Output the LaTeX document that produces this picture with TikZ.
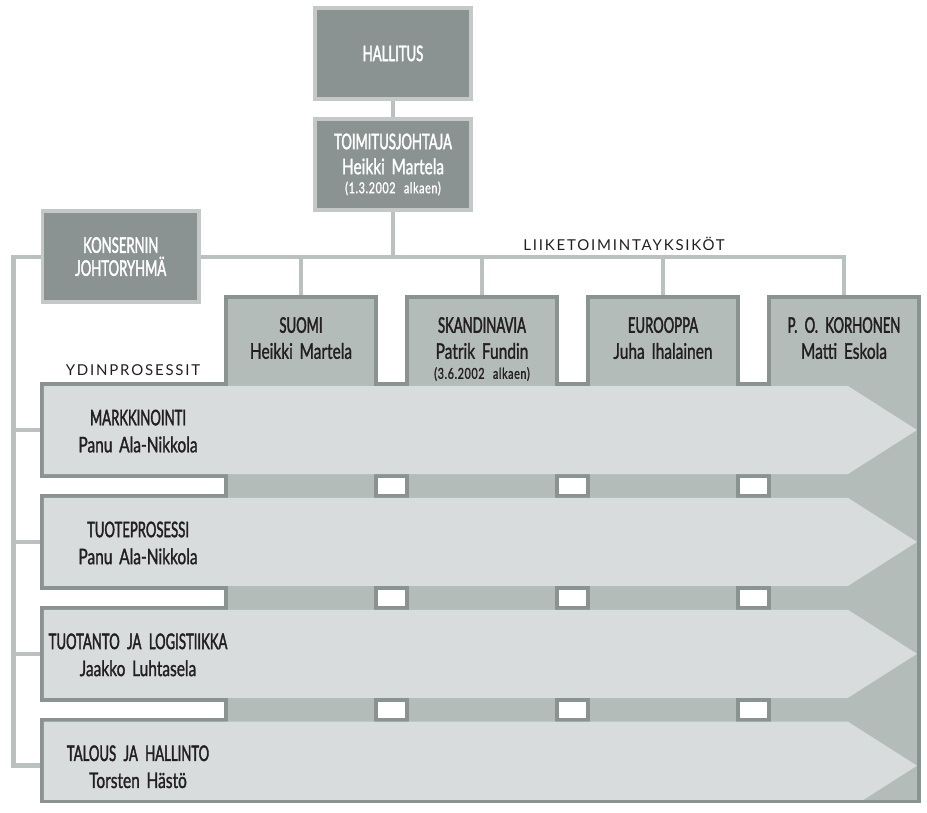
\documentclass[tikz,border=0pt]{standalone}
\usepackage{fontspec}
\setmainfont{Lato}
\newfontfamily\capsfont[FakeStretch=0.61,FakeBold=1.8,WordSpace=2.2]{Lato}
\newfontfamily\namefont[FakeStretch=0.72,FakeBold=1.2,WordSpace=1.7]{Lato}
\newfontfamily\datefont[FakeStretch=0.72,FakeBold=1.2,WordSpace=2.5,LetterSpace=4]{Lato}
\newfontfamily\spacedfont[LetterSpace=12]{Lato}
\newcommand{\hd}[1]{{\capsfont #1}}
\newcommand{\pvm}[1]{{\datefont\fontsize{15}{17}\selectfont #1}}
\usepackage{tikz}
\usetikzlibrary{backgrounds}

\definecolor{boxDark}{HTML}{8B9392}
\definecolor{boxRim}{HTML}{C4C9C7}
\definecolor{connGray}{HTML}{BAC1BF}
\definecolor{colGray}{HTML}{B4BCBA}
\definecolor{colRim}{HTML}{8A9391}
\definecolor{arrowGray}{HTML}{D8DCDD}
\definecolor{ink}{HTML}{231F20}

\begin{document}
\begin{tikzpicture}[x=1pt,y=-1pt,
    conn/.style={draw=connGray, line width=4.5pt},
    topbox/.style={fill=boxDark, draw=boxRim, line width=3.6pt, minimum width=156pt,
        minimum height=91pt, text=white, align=center,
        font=\namefont\fontsize{21.5}{25}\selectfont},
    colhead/.style={anchor=north, inner xsep=0pt, inner ysep=20pt, align=center, text=ink,
        font=\namefont\fontsize{21.5}{26}\selectfont},
    proc/.style={anchor=north, inner sep=0pt, align=center, text=ink,
        font=\namefont\fontsize{21.5}{27}\selectfont},
    gap/.style={fill=white, draw=colRim, line width=3.8pt},
    tag/.style={text=ink, font=\spacedfont\fontsize{15}{18}\selectfont}]
    \useasboundingbox (0,0) rectangle (927,812);

    % top of the organisation
    \node[topbox] (hallitus) at (393,53.4) {\hd{HALLITUS}};
    \node[topbox] (toimitus) at (393,164.5) {\hd{TOIMITUSJOHTAJA}\\Heikki Martela\\[-6pt]\pvm{(1.3.2002 alkaen)}};
    \node[topbox, minimum width=156.5pt] (konserni) at (120.7,256.6) {\hd{KONSERNIN}\\[-2pt]\hd{JOHTORYHMÄ}};

    % business unit columns and process band
    \draw[fill=colGray, draw=colRim, line width=3.8pt] (42,384) -- (226,384) -- (226,297)
        -- (376,297) -- (376,384) -- (407,384) -- (407,297) -- (557,297) -- (557,384)
        -- (588,384) -- (588,297) -- (738,297) -- (738,384) -- (769,384) -- (769,297)
        -- (919,297) -- (919,801.5) -- (42,801.5) -- cycle;

    % gaps between the processes
    \fill[white] (39,474) rectangle (226,497.9);
    \fill[white] (39,585.9) rectangle (226,609.8);
    \fill[white] (39,697.8) rectangle (226,721.7);
    \draw[colRim, line width=3.8pt] (40.1,475.9) -| (226,496.0) -- (40.1,496.0);
    \draw[colRim, line width=3.8pt] (40.1,587.8) -| (226,607.9) -- (40.1,607.9);
    \draw[colRim, line width=3.8pt] (40.1,699.7) -| (226,719.8) -- (40.1,719.8);
    \draw[gap] (376,475.9) rectangle (407,496.0) (557,475.9) rectangle (588,496.0) (738,475.9) rectangle (769,496.0);
    \draw[gap] (376,587.8) rectangle (407,607.9) (557,587.8) rectangle (588,607.9) (738,587.8) rectangle (769,607.9);
    \draw[gap] (376,699.7) rectangle (407,719.8) (557,699.7) rectangle (588,719.8) (738,699.7) rectangle (769,719.8);

    % process arrows
    \begin{scope}
        \clip (43.9,385.9) rectangle (917.1,799.6);
        \fill[arrowGray] (43.9,386) -- (848,386) -- (917,430) -- (848,474) -- (43.9,474) -- cycle;
        \fill[arrowGray] (43.9,497.9) -- (848,497.9) -- (917,541.9) -- (848,585.9) -- (43.9,585.9) -- cycle;
        \fill[arrowGray] (43.9,609.8) -- (848,609.8) -- (917,653.8) -- (848,697.8) -- (43.9,697.8) -- cycle;
        \fill[arrowGray] (43.9,721.7) -- (848,721.7) -- (917,765.7) -- (848,809.7) -- (43.9,809.7) -- cycle;
    \end{scope}

    % texts
    \node[colhead] (suomi) at (301,297) {\hd{SUOMI}\\Heikki Martela};
    \node[colhead] (skand) at (482,297) {\hd{SKANDINAVIA}\\Patrik Fundin\\[-6pt]\pvm{(3.6.2002 alkaen)}};
    \node[colhead] (euro) at (663,297) {\hd{EUROOPPA}\\Juha Ihalainen};
    \node[colhead] (pok) at (844,297) {\hd{P. O. KORHONEN}\\Matti Eskola};

    \node[proc] (markk) at (138,409.5) {\hd{MARKKINOINTI}\\Panu Ala-Nikkola};
    \node[proc] (tuote) at (138,521.4) {\hd{TUOTEPROSESSI}\\Panu Ala-Nikkola};
    \node[proc] (tuotanto) at (138,633.3) {\hd{TUOTANTO JA LOGISTIIKKA}\\Jaakko Luhtasela};
    \node[proc] (talous) at (138,745.2) {\hd{TALOUS JA HALLINTO}\\Torsten Hästö};

    \node[tag] (ydin) at (133,370) {YDINPROSESSIT};
    \node[tag] (liike) at (624,244) {LIIKETOIMINTAYKSIKÖT};

    \coordinate (trunk) at (13.5,257);
    \coordinate (p1) at (42,430);
    \coordinate (p2) at (42,541.9);
    \coordinate (p3) at (42,653.8);
    \coordinate (p4) at (42,765.7);

    % connectors
    \begin{scope}[on background layer]
        \draw[conn] (hallitus) -- (toimitus);
        \draw[conn] (toimitus) -- (toimitus |- trunk);
        \draw[conn] (pok.north) |- (trunk) |- (p4);
        \draw[conn] (suomi.north) -- (suomi.north |- trunk);
        \draw[conn] (skand.north) -- (skand.north |- trunk);
        \draw[conn] (euro.north) -- (euro.north |- trunk);
        \draw[conn] (trunk |- p1) -- (p1);
        \draw[conn] (trunk |- p2) -- (p2);
        \draw[conn] (trunk |- p3) -- (p3);
    \end{scope}
\end{tikzpicture}
\end{document}
